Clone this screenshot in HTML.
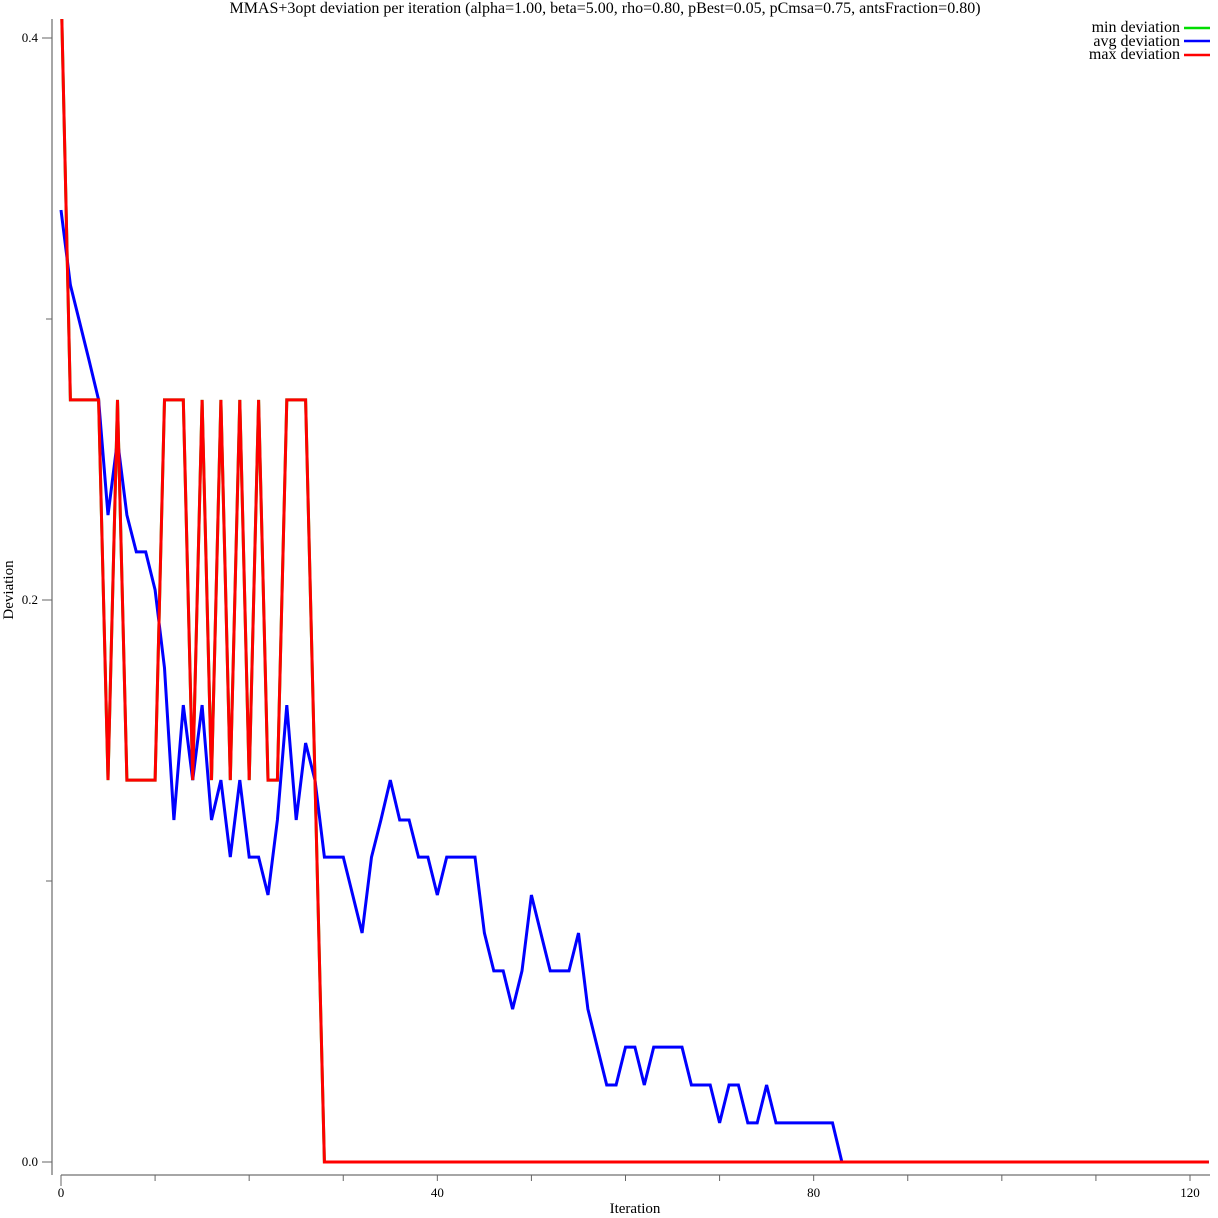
<!DOCTYPE html>
<html><head><meta charset="utf-8"><style>
html,body{margin:0;padding:0;background:#fff;}
svg{display:block;font-family:"Liberation Serif",serif;}
</style></head><body>
<svg id="chart" width="1218" height="1218" viewBox="0 0 1218 1218">
<defs><clipPath id="plotclip"><rect x="52" y="19" width="1158" height="1156"/></clipPath></defs>
<text x="605" y="13" font-size="16" text-anchor="middle" fill="#000">MMAS+3opt deviation per iteration (alpha=1.00, beta=5.00, rho=0.80, pBest=0.05, pCmsa=0.75, antsFraction=0.80)</text>
<g id="axes"></g>
<g id="series" clip-path="url(#plotclip)"></g>
<text x="0" y="0" font-size="15" text-anchor="middle" transform="translate(13,590) rotate(-90)">Deviation</text>
<text x="635" y="1213" font-size="15" text-anchor="middle">Iteration</text>
<g>
<text x="1180" y="32" font-size="16" text-anchor="end">min deviation</text>
<line x1="1184" y1="28" x2="1210" y2="28" stroke="#00dd00" stroke-width="2.5"/>
<text x="1180" y="46" font-size="16" text-anchor="end">avg deviation</text>
<line x1="1184" y1="41" x2="1210" y2="41" stroke="#0000ff" stroke-width="2.5"/>
<text x="1180" y="59" font-size="16" text-anchor="end">max deviation</text>
<line x1="1184" y1="55" x2="1210" y2="55" stroke="#ff0000" stroke-width="2.5"/>
</g>
</svg>
<script>
const xTicks = [0,10,20,30,40,50,60,70,80,90,100,110,120];
const xTickLabels = ["0","","","","40","","","","80","","","","120"];
const yTicks = [0,0.1,0.2,0.3,0.4];
const yTickLabels = ["0.0","","0.2","","0.4"];
const avgDev = [0.3388,0.3121,0.2986,0.2851,0.2712,0.2302,0.2569,0.2302,0.2171,0.2171,
0.2036,0.1758,0.1217,0.1626,0.1359,0.1626,0.1217,0.1359,0.1085,0.1359,
0.1085,0.1085,0.0950,0.1217,0.1626,0.1217,0.1491,0.1359,0.1085,0.1085,
0.1085,0.0950,0.0815,0.1085,0.1217,0.1359,0.1217,0.1217,0.1085,0.1085,
0.0950,0.1085,0.1085,0.1085,0.1085,0.0815,0.0680,0.0680,0.0544,0.0680,
0.0950,0.0815,0.0680,0.0680,0.0680,0.0815,0.0544,0.0409,0.0274,0.0274,
0.0409,0.0409,0.0274,0.0409,0.0409,0.0409,0.0409,0.0274,0.0274,0.0274,
0.0139,0.0274,0.0274,0.0139,0.0139,0.0274,0.0139,0.0139,0.0139,0.0139,
0.0139,0.0139,0.0139,0,0,0,0,0,0,0,0,0,0,0,0,0,0,0,0,0,0,0,0,0,0,0,0,0,0,0,0,0,0,0,0,0,0,0,0,0,0,0,0];
const maxDev = [0.42,0.2712,0.2712,0.2712,0.2712,0.1359,0.2712,0.1359,0.1359,0.1359,
0.1359,0.2712,0.2712,0.2712,0.1359,0.2712,0.1359,0.2712,0.1359,0.2712,
0.1359,0.2712,0.1359,0.1359,0.2712,0.2712,0.2712,0.1359,0,0,
0,0,0,0,0,0,0,0,0,0,0,0,0,0,0,0,0,0,0,0,0,0,0,0,0,0,0,0,0,0,
0,0,0,0,0,0,0,0,0,0,0,0,0,0,0,0,0,0,0,0,0,0,0,0,0,0,0,0,0,0,
0,0,0,0,0,0,0,0,0,0,0,0,0,0,0,0,0,0,0,0,0,0,0,0,0,0,0,0,0,0,0,0,0];
const minDev = maxDev.slice();

const NS = "http://www.w3.org/2000/svg";
function xScale(v){ return 61 + v*(1129/120); }
function yScale(v){ return 1162 - v*2810; }
function mk(tag, attrs, parent){ const e=document.createElementNS(NS,tag); for(const k in attrs) e.setAttribute(k,attrs[k]); parent.appendChild(e); return e; }

const axes = document.getElementById('axes');
let yl = mk('line',{x1:52,y1:19,x2:52,y2:1175,stroke:'#888','stroke-width':1.5},axes);


let xl = mk('line',{x1:61,y1:1175,x2:1210,y2:1175,stroke:'#888','stroke-width':1.5},axes);


yTicks.forEach((t,i)=>{
  const y=yScale(t);
  const big = yTickLabels[i]!=="";
  const tk = mk('line',{x1:big?42:46,y1:y,x2:52,y2:y,stroke:'#666','stroke-width':1},axes);
  
  
  if(big){
    const tx = mk('text',{x:38,y:y+4,'font-size':13,'text-anchor':'end'},axes);
    tx.textContent = yTickLabels[i];
    
    
  }
});
xTicks.forEach((t,i)=>{
  const x=xScale(t);
  const tk = mk('line',{x1:x,y1:1175,x2:x,y2:t===0?1186:1181,stroke:'#666','stroke-width':1},axes);
  
  
  if(xTickLabels[i]!==""){
    const tx = mk('text',{x:x,y:1197,'font-size':13,'text-anchor':'middle'},axes);
    tx.textContent = xTickLabels[i];
    
    
  }
});
const series = document.getElementById('series');
function drawLine(arr,color,name){
  const pts = arr.map((v,i)=>xScale(i).toFixed(1)+','+yScale(v).toFixed(1)).join(' ');
  const p = mk('polyline',{points:pts,fill:'none',stroke:color,'stroke-width':3,'stroke-linejoin':'miter'},series);
  
  
}
drawLine(minDev,'#00dd00','min-deviation-line');
drawLine(avgDev,'#0000ff','avg-deviation-line');
drawLine(maxDev,'#ff0000','max-deviation-line');
</script>
</body></html>
